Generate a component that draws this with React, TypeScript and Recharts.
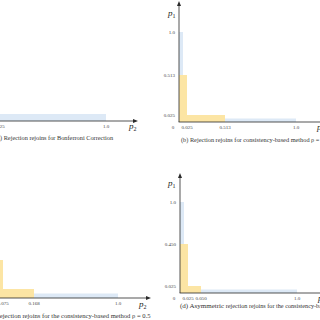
import React from 'react';
import { ComposedChart, XAxis, YAxis, ReferenceArea } from 'recharts';

// ---------- data ----------
// regions are [x1, x2, y1, y2] in (p2, p1) units
const ticksXA = [0.025, 1.0];
const ticksYA = [0.025, 1.0];
const blueA = [[0, 1.0, 0, 0.025], [0, 0.025, 0, 1.0]];
const yellowA: number[][] = [];

const ticksXB = [0, 0.025, 0.513, 1.0];
const ticksYB = [0.025, 0.513, 1.0];
const blueB = [[0, 1.0, 0, 0.0125], [0, 0.0125, 0, 1.0]];
const yellowB = [[0, 0.513, 0, 0.025], [0, 0.025, 0, 0.513]];

const ticksXC = [0, 0.075, 0.168, 1.0];
const ticksYC = [0.075, 0.168, 1.0];
const blueC = [[0, 1.0, 0, 0.0125], [0, 0.0125, 0, 1.0]];
const yellowC = [[0, 0.168, 0, 0.075], [0, 0.075, 0, 0.168]];

const ticksXD = [0, 0.025, 0.05, 1.0];
const ticksYD = [0.025, 0.45, 1.0];
const blueD = [[0, 1.0, 0, 0.0125], [0, 0.0125, 0, 1.0]];
const yellowD = [[0, 0.05, 0, 0.025], [0, 0.025, 0, 0.45]];

const captionA = '(a) Rejection rejoins for Bonferroni Correction';
const captionB = '(b) Rejection rejoins for consistency-based method ρ = 0';
const captionC = '(c) Rejection rejoins for the consistency-based method ρ = 0.5';
const captionD1 = '(d) Asymmetric';
const captionD2 = ' rejection rejoins for the consistency-based method';

// ---------- schematic (non-linear) axis scales ----------
type Knot = [number, number];
function piecewiseScale(knots: Knot[]): any {
  let dom: number[] = [knots[0][0], knots[knots.length - 1][0]];
  let rng: number[] = [0, 1];
  const total = knots[knots.length - 1][1];
  const frac = (v: number) => {
    for (let i = 0; i < knots.length - 1; i++) {
      const [a, pa] = knots[i];
      const [b, pb] = knots[i + 1];
      if (v <= b || i === knots.length - 2) return (pa + ((v - a) / (b - a)) * (pb - pa)) / total;
    }
    return 0;
  };
  const s: any = (v: number) => rng[0] + (rng[1] - rng[0]) * frac(v);
  s.domain = (d?: number[]) => {
    if (d === undefined) return dom.slice();
    dom = d.slice();
    return s;
  };
  s.range = (r?: number[]) => {
    if (r === undefined) return rng.slice();
    rng = r.slice();
    return s;
  };
  s.copy = () => piecewiseScale(knots).domain(dom).range(rng);
  s.ticks = () => knots.map((k) => k[0]);
  return s;
}

const BLUE = '#dde9f6';
const YELLOW = '#fce5a4';
const AXIS = '#2a2a2a';
const SERIF = '"Liberation Serif", "DejaVu Serif", serif';

const fmt = (v: number) => (v === 0 ? '0' : v === 1 ? '1.0' : v.toFixed(3));

function XTick(props: any) {
  const { x, y, payload } = props;
  const v = payload.value;
  const dx = v === 0 ? -6 : 0;
  return (
    <text x={x + dx} y={y + 6.7} fontSize={5} fontFamily={SERIF} fill="#444" textAnchor="middle">
      {fmt(v)}
    </text>
  );
}

function YTick(props: any) {
  const { x, y, payload } = props;
  return (
    <text x={x - 4} y={y + 1.7} fontSize={5} fontFamily={SERIF} fill="#444" textAnchor="end">
      {fmt(payload.value)}
    </text>
  );
}

// axes with arrowheads, drawn on the rectangle the library's scales give for the full domain
function AxesFrame(props: any) {
  const { x, y, width, height } = props;
  if (![x, y, width, height].every((n) => typeof n === 'number' && isFinite(n))) return <g />;
  const ox = x;
  const oy = y + height;
  const t = 0.8;
  return (
    <g>
      <rect x={ox - t / 2} y={oy - t / 2} width={width - 3} height={t} fill={AXIS} />
      <rect x={ox - t / 2} y={y + 3} width={t} height={height - 3} fill={AXIS} />
      <path d={`M${x + width - 5},${oy - 2} L${x + width},${oy} L${x + width - 5},${oy + 2} Z`} fill={AXIS} />
      <path d={`M${ox - 2},${y + 5} L${ox},${y} L${ox + 2},${y + 5} Z`} fill={AXIS} />
    </g>
  );
}

type PanelProps = {
  ox: number;
  oy: number;
  xK: Knot[];
  yK: Knot[];
  xTicks: number[];
  yTicks: number[];
  blue: number[][];
  yellow: number[][];
};

function Panel({ ox, oy, xK, yK, xTicks, yTicks, blue, yellow }: PanelProps) {
  const Lx = xK[xK.length - 1][1];
  const Ly = yK[yK.length - 1][1];
  const xMax = xK[xK.length - 1][0];
  const yMax = yK[yK.length - 1][0];
  const YW = 30;
  const XH = 12;
  const MT = 4;
  const MR = 4;
  const W = YW + Lx + MR;
  const H = MT + Ly + XH;
  const xScale = React.useMemo(() => piecewiseScale(xK), [xK]);
  const yScale = React.useMemo(() => piecewiseScale(yK), [yK]);
  return (
    <div style={{ position: 'absolute', left: ox - YW, top: oy - Ly - MT }}>
      <ComposedChart width={W} height={H} margin={{ top: MT, right: MR, bottom: 0, left: 0 }} data={[]}>
        {blue.map((r, i) => (
          <ReferenceArea
            key={'b' + i}
            x1={r[0]}
            x2={r[1]}
            y1={r[2]}
            y2={r[3]}
            fill={BLUE}
            fillOpacity={1}
            stroke="none"
            ifOverflow="visible"
          />
        ))}
        {yellow.map((r, i) => (
          <ReferenceArea
            key={'y' + i}
            x1={r[0]}
            x2={r[1]}
            y1={r[2]}
            y2={r[3]}
            fill={YELLOW}
            fillOpacity={1}
            stroke="none"
            ifOverflow="visible"
          />
        ))}
        <ReferenceArea
          x1={0}
          x2={xMax}
          y1={0}
          y2={yMax}
          fill="none"
          stroke="none"
          ifOverflow="visible"
          shape={AxesFrame}
        />
        <XAxis
          type="number"
          domain={[0, xMax]}
          scale={xScale}
          ticks={xTicks}
          interval={0}
          tickSize={0}
          tickMargin={0}
          tickLine={false}
          tick={<XTick />}
          height={XH}
          allowDataOverflow
          axisLine={false}
        />
        <YAxis
          type="number"
          domain={[0, yMax]}
          scale={yScale}
          ticks={yTicks}
          interval={0}
          tickSize={0}
          tickMargin={0}
          tickLine={false}
          tick={<YTick />}
          width={YW}
          allowDataOverflow
          axisLine={false}
        />
      </ComposedChart>
    </div>
  );
}

const textBase: React.CSSProperties = {
  position: 'absolute',
  fontFamily: SERIF,
  color: '#333',
  whiteSpace: 'nowrap',
  lineHeight: 1,
};

function PLabel({ x, y, n }: { x: number; y: number; n: number }) {
  return (
    <div style={{ ...textBase, left: x, top: y, fontSize: 9, color: '#222' }}>
      <i>p</i>
      <span style={{ fontSize: 6, position: 'relative', top: 2 }}>{n}</span>
    </div>
  );
}

const kxA: Knot[] = [[0, 0], [0.025, 8], [1, 115], [1.3, 147]];
const kyA: Knot[] = [[0, 0], [0.025, 7], [1, 90], [1.35, 122]];
const kxB: Knot[] = [[0, 0], [0.025, 8], [0.513, 46], [1, 117], [1.4, 160]];
const kyB: Knot[] = [[0, 0], [0.025, 7], [0.513, 47], [1, 90], [1.35, 121]];
const kxC: Knot[] = [[0, 0], [0.0125, 4], [0.075, 8], [0.168, 39], [1, 123], [1.3, 156]];
const kyC: Knot[] = [[0, 0], [0.0125, 4.5], [0.075, 9], [0.168, 38], [1, 90], [1.35, 122]];
const kxD: Knot[] = [[0, 0], [0.025, 8], [0.05, 21], [1, 117], [1.4, 160]];
const kyD: Knot[] = [[0, 0], [0.025, 7], [0.45, 49], [1, 91], [1.3, 120]];

export default function App() {
  return (
    <div
      style={{
        position: 'absolute',
        left: 0,
        top: 0,
        width: 320,
        height: 320,
        overflow: 'hidden',
        background: '#fff',
      }}
    >
      <Panel ox={-9} oy={121} xK={kxA} yK={kyA} xTicks={ticksXA} yTicks={ticksYA} blue={blueA} yellow={yellowA} />
      <Panel ox={179} oy={122} xK={kxB} yK={kyB} xTicks={ticksXB} yTicks={ticksYB} blue={blueB} yellow={yellowB} />
      <Panel ox={-5} oy={298} xK={kxC} yK={kyC} xTicks={ticksXC} yTicks={ticksYC} blue={blueC} yellow={yellowC} />
      <Panel ox={180} oy={293} xK={kxD} yK={kyD} xTicks={ticksXD} yTicks={ticksYD} blue={blueD} yellow={yellowD} />

      <PLabel x={129} y={122} n={2} />
      <PLabel x={168} y={9} n={1} />
      <PLabel x={317} y={123} n={2} />
      <PLabel x={139} y={300} n={2} />
      <PLabel x={168} y={179} n={1} />
      <PLabel x={318} y={294} n={2} />

      <div style={{ ...textBase, left: -4.9, top: 135, fontSize: 6.3 }}>{captionA}</div>
      <div style={{ ...textBase, left: 181, top: 137, fontSize: 6.3 }}>{captionB}</div>
      <div style={{ ...textBase, left: -13.5, top: 313, fontSize: 6.6 }}>{captionC}</div>
      <div style={{ ...textBase, left: 180, top: 303, fontSize: 6.2 }}>
        <span style={{ fontSize: 7 }}>{captionD1}</span>
        {captionD2}
      </div>
    </div>
  );
}
